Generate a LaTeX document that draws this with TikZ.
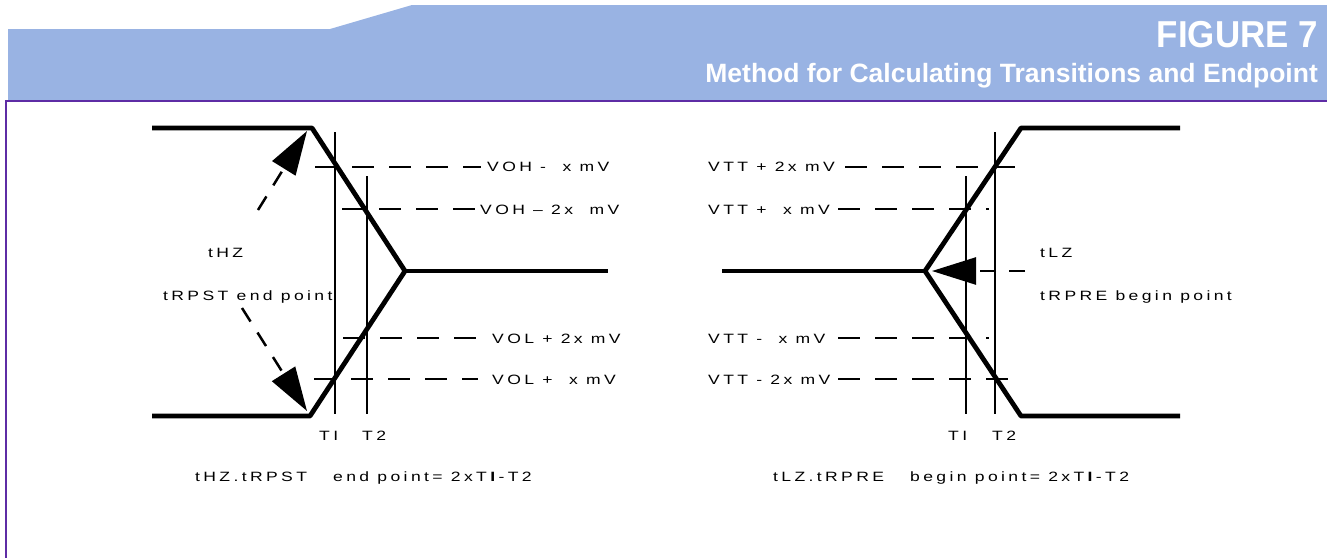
\documentclass[tikz,border=0pt]{standalone}
\usepackage{fontspec}
\setmainfont{Liberation Sans}
\newfontfamily\lbl[LetterSpace=25,FakeStretch=1.3]{Liberation Sans}
\newfontfamily\figfont[FakeStretch=0.93]{Liberation Sans}
\usetikzlibrary{arrows.meta}
\definecolor{hdr}{HTML}{99B3E3}
\definecolor{framec}{HTML}{5E2CA5}
\begin{document}
\begin{tikzpicture}[x=1pt,y=-1pt,
  wave/.style={line width=4.8pt, line join=round},
  tline/.style={line width=1.5pt},
  lvl/.style={line width=2pt, dash pattern=on 22pt off 15pt},
  lab/.style={font=\lbl\fontsize{13.5}{15}\selectfont, inner sep=0pt, anchor=base west},
  darrow/.style={line width=2.5pt, dash pattern=on 16pt off 13pt, -{Triangle[length=44pt,width=27pt]}},
]
\useasboundingbox (0,0) rectangle (1327,558);
% header
\fill[hdr] (8,29) -- (330,29) -- (412,5) -- (1327,5) -- (1327,100) -- (8,100) -- cycle;
\draw[framec, line width=2pt] (1327,101) -- (6,101) -- (6,558);
\node[anchor=base east, text=white, inner sep=0pt, font=\figfont\bfseries\fontsize{37.5}{40}\selectfont] (fig) at (1318,47) {FIGURE 7};
\node[anchor=base east, text=white, inner sep=0pt, font=\bfseries\fontsize{26.5}{28}\selectfont] (ttl) at (1318,82.5) {Method for Calculating Transitions and Endpoint};

% ---------- left diagram ----------
\coordinate (a1) at (152,128);
\coordinate (a2) at (312,128);
\coordinate (a3) at (405,271);
\coordinate (a4) at (608,271);
\coordinate (b1) at (152,416);
\coordinate (b2) at (310,416);
\draw[wave] (a1) -- (a2) -- (a3) -- (b2) -- (b1);
\draw[wave] (a3) -- (a4);
\coordinate (t1a) at (335,132); \coordinate (t1b) at (335,414);
\coordinate (t2a) at (367,176); \coordinate (t2b) at (367,414);
\draw[tline] (t1a) -- (t1b);
\draw[tline] (t2a) -- (t2b);
\coordinate (l1a) at (315,167); \coordinate (l1b) at (481,167);
\coordinate (l2a) at (342,209); \coordinate (l2b) at (478,209);
\coordinate (l3a) at (343,338); \coordinate (l3b) at (478,338);
\coordinate (l4a) at (314,379); \coordinate (l4b) at (478,379);
\draw[lvl] (l1a) -- (l1b);
\draw[lvl] (l2a) -- (l2b);
\draw[lvl] (l3a) -- (l3b);
\draw[lvl] (l4a) -- (l4b);
\node[lab] (voh1) at (487,171.5) {VOH -\ \ x mV};
\node[lab] (voh2) at (480,214) {VOH – 2x\ \ mV};
\node[lab] (vol2) at (492,343) {VOL + 2x mV};
\node[lab] (vol1) at (492,384) {VOL +\ \ x mV};
\node[lab] (thz) at (208,257.5) {tHZ};
\node[lab] (trpst) at (163,300.5) {tRPST end point};
\coordinate (ua) at (258,210); \coordinate (ub) at (307,131);
\coordinate (da) at (242,308); \coordinate (db) at (307,411);
\draw[darrow] (ua) -- (ub);
\draw[darrow] (da) -- (db);
\node[lab] (lt1) at (319,440.5) {TI};
\node[lab] (lt2) at (362,440.5) {T2};
\node[lab] (lf1) at (195,481.5) {tHZ.tRPST};
\node[lab] (lf2) at (333,481.5) {end point= 2xT\textbf{I}-T2};

% ---------- right diagram ----------
\coordinate (c1) at (722,271);
\coordinate (c2) at (925,271);
\coordinate (c3) at (1021,128);
\coordinate (c4) at (1180,128);
\coordinate (d1) at (1021,416);
\coordinate (d2) at (1180,416);
\draw[wave] (c4) -- (c3) -- (c2) -- (d1) -- (d2);
\draw[wave] (c1) -- (c2);
\coordinate (s1a) at (966,176); \coordinate (s1b) at (966,414);
\coordinate (s2a) at (995,132); \coordinate (s2b) at (995,414);
\draw[tline] (s1a) -- (s1b);
\draw[tline] (s2a) -- (s2b);
\coordinate (r1a) at (845,167); \coordinate (r1b) at (1016,167);
\coordinate (r2a) at (838,209); \coordinate (r2b) at (989,209);
\coordinate (r3a) at (838,338); \coordinate (r3b) at (989,338);
\coordinate (r4a) at (838,379); \coordinate (r4b) at (1016,379);
\draw[lvl] (r1a) -- (r1b);
\draw[lvl] (r2a) -- (r2b);
\draw[lvl] (r3a) -- (r3b);
\draw[lvl] (r4a) -- (r4b);
\node[lab] (vtt1) at (708,171.5) {VTT + 2x mV};
\node[lab] (vtt2) at (708,214) {VTT +\ \ x mV};
\node[lab] (vtt3) at (708,343) {VTT -\ \ x mV};
\node[lab] (vtt4) at (708,384) {VTT - 2x mV};
\node[lab] (tlz) at (1040,257.5) {tLZ};
\node[lab] (trpre) at (1040,300.5) {tRPRE begin point};
\coordinate (ra) at (1025,271); \coordinate (rb) at (932,271);
\draw[darrow] (ra) -- (rb);
\node[lab] (rt1) at (948,440.5) {TI};
\node[lab] (rt2) at (992,440.5) {T2};
\node[lab] (rf1) at (773,481.5) {tLZ.tRPRE};
\node[lab] (rf2) at (910,481.5) {begin point= 2xT\textbf{I}-T2};
\end{tikzpicture}
\end{document}
